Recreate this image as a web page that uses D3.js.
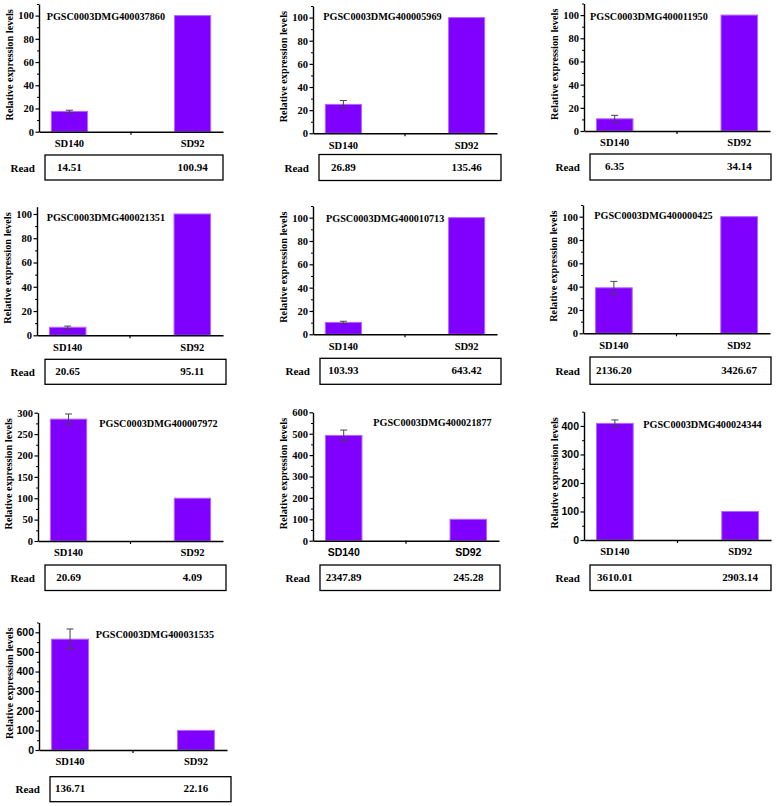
<!DOCTYPE html>
<html><head><meta charset="utf-8">
<script src="https://cdn.jsdelivr.net/npm/d3@7"></script>
<style>body{margin:0;background:#fff}svg{display:block}</style>
</head><body>
<script>
// ---- data ----
const categories = ["SD140", "SD92"];
const geneIds = ["PGSC0003DMG400037860","PGSC0003DMG400005969","PGSC0003DMG400011950",
  "PGSC0003DMG400021351","PGSC0003DMG400010713","PGSC0003DMG400000425",
  "PGSC0003DMG400007972","PGSC0003DMG400021877","PGSC0003DMG400024344",
  "PGSC0003DMG400031535"];
const sd140Values = [17.5, 25, 10.5, 6.6, 10.2, 39, 285, 492, 409, 565];
const sd140Errors = [1, 3.3, 3, 1, 1, 5.5, 12, 25, 12, 52];
const sd92Values  = [100, 100, 100, 100, 100, 100, 100, 100, 100, 100];
const readSD140 = ["14.51","26.89","6.35","20.65","103.93","2136.20","20.69","2347.89","3610.01","136.71"];
const readSD92  = ["100.94","135.46","34.14","95.11","643.42","3426.67","4.09","245.28","2903.14","22.16"];
const yMax      = [110, 110, 110, 106, 110, 110, 300, 600, 450, 650];
const yTickStep = [20, 20, 20, 20, 20, 20, 50, 100, 100, 100];
const readLabel = "Read";
const yAxisTitle = "Relative expression levels";

// ---- layout (pixel positions) ----
const layout = [
  {ax:39,  xe:223, base:131.7, top:4,     bx0:45,  bx1:223, by0:155,   by1:180,   tx:46.7,  ty:16.7},
  {ax:313, xe:497, base:133.3, top:6,     bx0:319, bx1:501, by0:154.5, by1:180.5, tx:323.3, ty:16.7},
  {ax:584, xe:770, base:131,   top:3.5,   bx0:590, bx1:771, by0:154,   by1:180,   tx:590,   ty:16.7},
  {ax:37,  xe:223, base:335.3, top:206.7, bx0:45,  bx1:226, by0:359.3, by1:384.3, tx:46.7,  ty:217.7},
  {ax:313, xe:497, base:334.3, top:206,   bx0:320, bx1:501, by0:358.3, by1:384.3, tx:326,   ty:218.3},
  {ax:583, xe:770, base:333.3, top:205,   bx0:590, bx1:771, by0:357,   by1:384.3, tx:594.3, ty:215},
  {ax:38,  xe:223, base:541,   top:412.7, bx0:45,  bx1:226, by0:565,   by1:590.5, tx:99.3,  ty:423.3},
  {ax:313, xe:499, base:540.7, top:412.3, bx0:320, bx1:500, by0:565,   by1:590.5, tx:373.3, ty:422.7},
  {ax:584, xe:771, base:540,   top:411.7, bx0:590, bx1:771, by0:565,   by1:590.5, tx:643.3, ty:424},
  {ax:39,  xe:227, base:750,   top:622.5, bx0:50,  bx1:231, by0:776.7, by1:801.7, tx:95.7,  ty:634.3}
];
const serif = "'Liberation Serif','Times New Roman',serif";
const sans = "'Liberation Sans',Arial,sans-serif";
const yTickFont = [serif,serif,serif,serif,serif,serif,serif,serif,sans,sans];
const xTickFont = [serif,serif,serif,serif,serif,serif,serif,sans,serif,serif];

const svg = d3.select("body").append("svg").attr("width",776).attr("height",806);

geneIds.forEach((gene,i)=>{
  const L = layout[i];
  const g = svg.append("g");
  const x = d3.scaleBand().domain(categories).range([L.ax, L.xe]).paddingInner(0.707).paddingOuter(0.1);
  const y = d3.scaleLinear().domain([0, yMax[i]]).range([L.base, L.top]);
  const vals = [sd140Values[i], sd92Values[i]];
  const errs = [sd140Errors[i], 0];

  // bars
  g.selectAll("rect.bar").data(categories).join("rect")
    .attr("x", d=>x(d)).attr("width", x.bandwidth())
    .attr("y", (d,j)=>y(vals[j])).attr("height", (d,j)=>y(0)-y(vals[j]))
    .attr("fill","#7f00ff").attr("stroke","#b266ff").attr("stroke-width",1);

  // error bars
  categories.forEach((c,j)=>{
    if(!errs[j]) return;
    const cx = x(c)+x.bandwidth()/2;
    const e = g.append("g").attr("stroke","#444").attr("stroke-width",1);
    e.append("line").attr("x1",cx).attr("x2",cx).attr("y1",y(vals[j]+errs[j])).attr("y2",y(vals[j]-errs[j]));
    e.append("line").attr("x1",cx-3.5).attr("x2",cx+3.5).attr("y1",y(vals[j]+errs[j])).attr("y2",y(vals[j]+errs[j]));
    e.append("line").attr("x1",cx-3.5).attr("x2",cx+3.5).attr("y1",y(vals[j]-errs[j])).attr("y2",y(vals[j]-errs[j]));
  });

  // y axis: minor ticks
  const step = yTickStep[i];
  const majors = d3.range(0, yMax[i]+0.001, step);
  const minors = d3.range(step/2, yMax[i]+0.001, step);
  const yAxMinor = d3.axisLeft(y).tickValues(minors).tickSize(2).tickFormat("");
  g.append("g").attr("transform",`translate(${L.ax},0)`).call(yAxMinor)
    .call(s=>s.select(".domain").remove())
    .call(s=>s.selectAll("line").attr("stroke","#000").attr("stroke-width",1));
  const yAx = d3.axisLeft(y).tickValues(majors).tickSize(3.5).tickPadding(1.5).tickSizeOuter(0);
  g.append("g").attr("transform",`translate(${L.ax},0)`).call(yAx)
    .call(s=>s.select(".domain").attr("stroke","#000").attr("stroke-width",1.4))
    .call(s=>s.selectAll(".tick line").attr("stroke","#000").attr("stroke-width",1.2))
    .call(s=>s.selectAll("text").attr("fill","#000").style("font-family",yTickFont[i])
      .style("font-weight","bold").style("font-size","10.5px"));

  // x axis
  const xAx = d3.axisBottom(x).tickSize(0).tickPadding(8).tickSizeOuter(0);
  g.append("g").attr("transform",`translate(0,${L.base})`).call(xAx)
    .call(s=>s.select(".domain").attr("stroke","#000").attr("stroke-width",1.4))
    .call(s=>s.selectAll("text").attr("fill","#000").style("font-family",xTickFont[i])
      .style("font-weight","bold").style("font-size","10.5px"));
  const mid = (L.ax+L.xe)/2;
  g.append("line").attr("x1",mid).attr("x2",mid).attr("y1",L.base).attr("y2",L.base+3)
    .attr("stroke","#000").attr("stroke-width",1.2);

  // y axis title
  g.append("text")
    .attr("transform",`translate(${L.ax-30},${(L.base+L.top)/2-3}) rotate(-90)`)
    .attr("text-anchor","middle").attr("dominant-baseline","central")
    .style("font-family",serif).style("font-weight","bold").style("font-size","10.3px")
    .text(yAxisTitle);

  // gene title
  g.append("text").attr("x",L.tx).attr("y",L.ty).attr("dominant-baseline","central")
    .style("font-family",serif).style("font-weight","bold").style("font-size","10.2px")
    .text(gene);

  // read table
  g.append("rect").attr("x",L.bx0).attr("y",L.by0).attr("width",L.bx1-L.bx0).attr("height",L.by1-L.by0)
    .attr("fill","none").attr("stroke","#000").attr("stroke-width",1.3);
  const cy = (L.by0+L.by1)/2;
  g.append("text").attr("x",L.bx0-10).attr("y",cy).attr("text-anchor","end").attr("dominant-baseline","central")
    .style("font-family",serif).style("font-weight","bold").style("font-size","11px").text(readLabel);
  [readSD140[i], readSD92[i]].forEach((v,j)=>{
    g.append("text").attr("x",x(categories[j])+x.bandwidth()/2).attr("y",cy-1)
      .attr("text-anchor","middle").attr("dominant-baseline","central")
      .style("font-family",serif).style("font-weight","bold").style("font-size","11px").text(v);
  });
});
</script>
</body></html>
